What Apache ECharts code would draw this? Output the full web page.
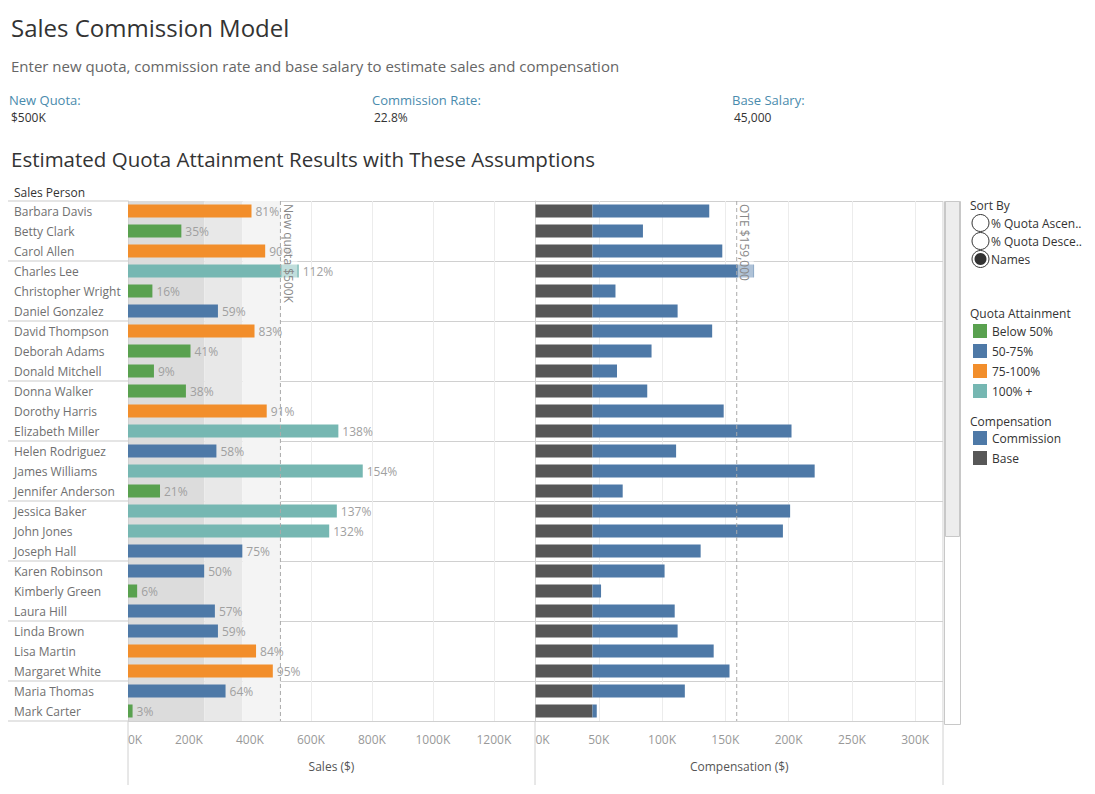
<!DOCTYPE html>
<html>
<head>
<meta charset="utf-8">
<script src="https://cdn.jsdelivr.net/npm/echarts@6/dist/echarts.min.js"></script>
<style>
html,body{margin:0;padding:0;background:#fff;}
#chart{width:1095px;height:794px;}
</style>
</head>
<body>
<div id="chart"></div>
<script>
// ---------------- data ----------------
const names = ["Barbara Davis","Betty Clark","Carol Allen","Charles Lee","Christopher Wright","Daniel Gonzalez",
  "David Thompson","Deborah Adams","Donald Mitchell","Donna Walker","Dorothy Harris","Elizabeth Miller",
  "Helen Rodriguez","James Williams","Jennifer Anderson","Jessica Baker","John Jones","Joseph Hall",
  "Karen Robinson","Kimberly Green","Laura Hill","Linda Brown","Lisa Martin","Margaret White",
  "Maria Thomas","Mark Carter"];
const sales = [405000,175000,450000,560000,80000,295000,
  415000,205000,85000,190000,455000,690000,
  290000,770000,105000,685000,660000,375000,
  250000,30000,285000,295000,420000,475000,
  320000,15000];
const quotaPct = [81,35,90,112,16,59,
  83,41,9,38,91,138,
  58,154,21,137,132,75,
  50,6,57,59,84,95,
  64,3];
const commission = [92300,39900,102600,127700,18200,67300,
  94600,46700,19400,43300,103700,157300,
  66100,175600,23900,156200,150500,85500,
  57000,6800,65000,67300,95800,108300,
  73000,3400];
const baseSalary = 45000;
const newQuota = 500000;
const commissionRate = "22.8%";
const ote = 159000;
const salesTicks = ["0K","200K","400K","600K","800K","1000K","1200K"];
const compTicks = ["0K","50K","100K","150K","200K","250K","300K"];
const attainmentCats = ["Below 50%","50-75%","75-100%","100% +"];
const attainmentColors = ["#59A14F","#4E79A7","#F28E2B","#76B7B2"];
const compCats = ["Commission","Base"];
const compColors = ["#4E79A7","#575757"];
const sortOptions = ["% Quota Ascen..","% Quota Desce..","Names"];

// ---------------- chart ----------------
const FONT = '"Open Sans", sans-serif';
function attColor(p){
  if (p < 50) return attainmentColors[0];
  if (p <= 75) return attainmentColors[1];
  if (p <= 100) return attainmentColors[2];
  return attainmentColors[3];
}
const chart = echarts.init(document.getElementById('chart'), null, {renderer:'svg'});

const groupInterval = function(i){ return i % 3 === 0 || i >= names.length; };

function refLine(labelText){
  return function(params, api){
    const x = api.coord([api.value(0), 0])[0];
    const cs = params.coordSys;
    return {type:'group', children:[
      {type:'line', shape:{x1:x, y1:cs.y, x2:x, y2:cs.y+cs.height},
       style:{stroke:'#aaaaaa', lineWidth:1, lineDash:[4,3]}},
      {type:'text', x:x+1, y:cs.y+1, rotation:-Math.PI/2,
       style:{text:labelText, fill:'#888', font:'12px '+FONT, align:'left', verticalAlign:'bottom',
              backgroundColor:'rgba(255,255,255,0.55)', padding:[3,2,1,2]}}
    ]};
  };
}

const graphics = [];
function txt(x,y,t,size,color){
  graphics.push({type:'text', x:x, y:y, silent:true,
    style:{text:t, fill:color, font:size+'px '+FONT, verticalAlign:'middle', align:'left'}});
}
txt(11,27,'Sales Commission Model',24,'#333');
txt(11,66,'Enter new quota, commission rate and base salary to estimate sales and compensation',15,'#666');
txt(9,100,'New Quota:',13,'#4a8bad');
txt(11,117,'$'+(newQuota/1000)+'K',12,'#333');
txt(372,100,'Commission Rate:',13,'#4a8bad');
txt(374,117,commissionRate,12,'#333');
txt(732,100,'Base Salary:',13,'#4a8bad');
txt(734,117,baseSalary.toLocaleString('en-US'),12,'#333');
txt(11,159,'Estimated Quota Attainment Results with These Assumptions',20.5,'#333');
txt(14,192,'Sales Person',12,'#333');

// frame extensions
[[128,721,128,785],[535,721,535,785],[943,201,943,785]].forEach(function(l){
  graphics.push({type:'line', silent:true, shape:{x1:l[0],y1:l[1],x2:l[2],y2:l[3]}, style:{stroke:'#d0d0d0', lineWidth:1}});
});
// scrollbar
graphics.push({type:'rect', silent:true, shape:{x:944.5,y:201.5,width:16,height:523}, style:{fill:'#fff', stroke:'#c8c8c8', lineWidth:1}});
graphics.push({type:'rect', silent:true, shape:{x:945.5,y:201.5,width:14,height:335}, style:{fill:'#ededed', stroke:'#c8c8c8', lineWidth:1}});

// legend: sort by
txt(970,205,'Sort By',12,'#333');
sortOptions.forEach(function(s,i){
  const cy = 223 + i*18;
  graphics.push({type:'circle', silent:true, shape:{cx:980.5, cy:cy, r:8.5}, style:{fill:'#fff', stroke:'#333', lineWidth:1}});
  if (i === 2) graphics.push({type:'circle', silent:true, shape:{cx:980.5, cy:cy, r:6}, style:{fill:'#333'}});
  txt(991, cy, s, 12, '#333');
});
txt(970,313,'Quota Attainment',12,'#333');
attainmentCats.forEach(function(c,i){
  const cy = 331 + i*20;
  graphics.push({type:'rect', silent:true, shape:{x:973,y:cy-7,width:14,height:14}, style:{fill:attainmentColors[i]}});
  txt(992, cy, c, 12, '#333');
});
txt(970,421,'Compensation',12,'#333');
compCats.forEach(function(c,i){
  const cy = 438 + i*20;
  graphics.push({type:'rect', silent:true, shape:{x:973,y:cy-7,width:14,height:14}, style:{fill:compColors[i]}});
  txt(992, cy, c, 12, '#333');
});

const axisLabelStyle = {color:'#999', fontSize:12, fontFamily:FONT};

const option = {
  animation:false,
  textStyle:{fontFamily:FONT},
  grid:[
    {left:128, top:201, width:407, height:520, containLabel:false},
    {left:535.5, top:201, width:407.5, height:520, containLabel:false}
  ],
  xAxis:[
    {gridIndex:0, type:'value', min:0, max:1335000, interval:200000, z:1,
     name:'Sales ($)', nameLocation:'middle', nameGap:39,
     nameTextStyle:{color:'#555', fontSize:12, fontFamily:FONT},
     axisLine:{show:true, lineStyle:{color:'#d0d0d0'}}, axisTick:{show:false},
     splitLine:{show:true, lineStyle:{color:'#ececec'}},
     axisLabel:Object.assign({margin:12, showMaxLabel:false, alignMinLabel:'left',
       formatter:function(v,i){ return salesTicks[i] !== undefined ? salesTicks[i] : ''; }}, axisLabelStyle)},
    {gridIndex:1, type:'value', min:0, max:322000, interval:50000, z:1,
     name:'Compensation ($)', nameLocation:'middle', nameGap:39,
     nameTextStyle:{color:'#555', fontSize:12, fontFamily:FONT},
     axisLine:{show:true, lineStyle:{color:'#d0d0d0'}}, axisTick:{show:false},
     splitLine:{show:true, lineStyle:{color:'#ececec'}},
     axisLabel:Object.assign({margin:12, showMaxLabel:false, alignMinLabel:'left',
       formatter:function(v,i){ return compTicks[i] !== undefined ? compTicks[i] : ''; }}, axisLabelStyle)}
  ],
  yAxis:[
    {gridIndex:0, type:'category', data:names, inverse:true, z:1,
     axisLine:{show:true, lineStyle:{color:'#d0d0d0'}},
     axisTick:{show:true, length:120, interval:groupInterval, lineStyle:{color:'#dcdcdc', width:1.5}},
     splitLine:{show:true, interval:groupInterval, lineStyle:{color:'#d0d0d0'}},
     axisLabel:{align:'left', margin:114, color:'#707070', fontSize:12, fontFamily:FONT, interval:0}},
    {gridIndex:1, type:'category', data:names, inverse:true, z:1,
     axisLine:{show:true, lineStyle:{color:'#d0d0d0'}},
     axisTick:{show:false},
     splitLine:{show:true, interval:groupInterval, lineStyle:{color:'#d0d0d0'}},
     axisLabel:{show:false}}
  ],
  series:[
    {type:'scatter', xAxisIndex:0, yAxisIndex:0, data:[], z:0, silent:true,
     markArea:{silent:true, itemStyle:{opacity:1}, data:[
       [{xAxis:0, itemStyle:{color:'#dcdcdc'}},{xAxis:newQuota*0.5}],
       [{xAxis:newQuota*0.5, itemStyle:{color:'#e8e8e8'}},{xAxis:newQuota*0.75}],
       [{xAxis:newQuota*0.75, itemStyle:{color:'#f4f4f4'}},{xAxis:newQuota}]
     ]}},
    {type:'bar', xAxisIndex:0, yAxisIndex:0, z:2, barWidth:13,
     data:sales.map(function(v,i){ return {value:v, itemStyle:{color:attColor(quotaPct[i])}}; }),
     label:{show:true, position:'right', distance:4, color:'#a0a0a0', fontSize:12, fontFamily:FONT,
       formatter:function(p){ return quotaPct[p.dataIndex]+'%'; }}},
    {type:'bar', name:'Base', xAxisIndex:1, yAxisIndex:1, stack:'comp', z:2, barWidth:13,
     itemStyle:{color:compColors[1]}, data:names.map(function(){ return baseSalary; })},
    {type:'bar', name:'Commission', xAxisIndex:1, yAxisIndex:1, stack:'comp', z:2, barWidth:13,
     itemStyle:{color:compColors[0]}, data:commission},
    {type:'custom', xAxisIndex:0, yAxisIndex:0, z:5, silent:true,
     data:[[newQuota,0]], encode:{x:0,y:1},
     renderItem:refLine('New quota $'+(newQuota/1000)+'K')},
    {type:'custom', xAxisIndex:1, yAxisIndex:1, z:5, silent:true,
     data:[[ote,0]], encode:{x:0,y:1},
     renderItem:refLine('OTE $'+ote.toLocaleString('en-US'))}
  ],
  graphic:graphics
};
chart.setOption(option);
</script>
</body>
</html>
